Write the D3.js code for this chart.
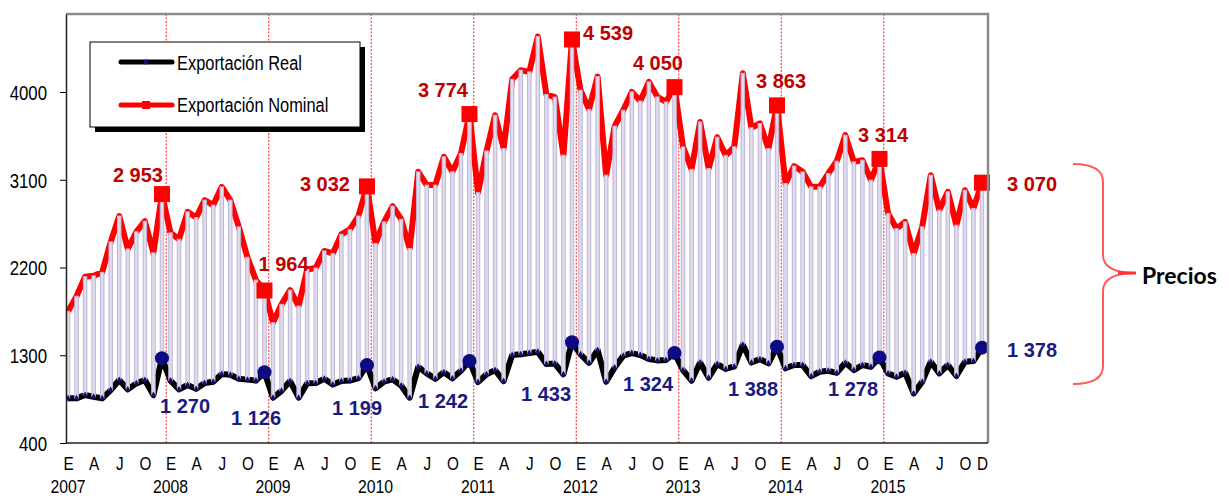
<!DOCTYPE html>
<html>
<head>
<meta charset="utf-8">
<script src="https://cdn.jsdelivr.net/npm/d3@7"></script>
<style>
  body { margin: 0; background: #fff; }
  svg { display: block; }
  .narrow { font-family: "Liberation Sans", Arial, sans-serif; }
  .val { font-family: "Liberation Sans", Arial, sans-serif; font-weight: bold; font-size: 20px; }
</style>
</head>
<body>
<div id="chart"></div>
<script>
////////////////////////////////////////////////////////////////////////
// Data (monthly, Jan 2007 - Dec 2015)

let years = [2007, 2008, 2009, 2010, 2011, 2012, 2013, 2014, 2015];
let monthLetters = ["E", "F", "M", "A", "M", "J", "J", "A", "S", "O", "N", "D"];

// Exportación Nominal
let nominal = [
  1750, 1905, 2105, 2115, 2150, 2463, 2728, 2390, 2566, 2675, 2350, 2953,
  2555, 2490, 2771, 2712, 2891, 2840, 3027, 2891, 2617, 2305, 2071, 1964,
  1635, 1822, 1968, 1805, 2180, 2195, 2370, 2344, 2540, 2590, 2728, 3032,
  2447, 2668, 2830, 2695, 2395, 3181, 3045, 3045, 3335, 3181, 3369, 3774,
  2968, 3395, 3762, 3420, 4130, 4223, 4206, 4568, 3975, 3947, 3352, 4539,
  4018, 3822, 4158, 3147, 3650, 3813, 4001, 3907, 4104, 3950, 3898, 4050,
  3437, 3207, 3693, 3215, 3536, 3350, 3438, 4192, 3634, 3677, 3420, 3863,
  3062, 3240, 3181, 3027, 3027, 3164, 3290, 3557, 3283, 3301, 3096, 3314,
  2754, 2600, 2668, 2344, 2617, 3147, 2788, 2976, 2634, 2993, 2806, 3070
];

// Exportación Real
let real = [
  858, 858, 892, 875, 858, 943, 1046, 950, 1012, 1046, 892, 1270,
  1040, 950, 995, 955, 1015, 1029, 1107, 1100, 1058, 1050, 1040, 1126,
  865, 935, 1035, 865, 1012, 1015, 1058, 1000, 1035, 1040, 1065, 1199,
  961, 1029, 1053, 990, 865, 1182, 1114, 1058, 1126, 1063, 1140, 1242,
  1025, 1105, 1148, 1035, 1302, 1310, 1322, 1336, 1210, 1215, 1105, 1433,
  1310, 1223, 1353, 1029, 1175, 1295, 1322, 1302, 1262, 1247, 1251, 1324,
  1148, 1040, 1225, 1070, 1210, 1160, 1185, 1408, 1225, 1260, 1217, 1388,
  1166, 1200, 1200, 1085, 1131, 1140, 1120, 1223, 1148, 1200, 1182, 1278,
  1114, 1080, 1121, 909, 1029, 1233, 1114, 1200, 1087, 1233, 1240, 1378
];

// December highlights (labelled values)
let decNominal = [2953, 1964, 3032, 3774, 4539, 4050, 3863, 3314, 3070];
let decReal = [1270, 1126, 1199, 1242, 1433, 1324, 1388, 1278, 1378];

let yTicks = [400, 1300, 2200, 3100, 4000];
let seriesNames = ["Exportación Real", "Exportación Nominal"];
let braceLabel = "Precios";

////////////////////////////////////////////////////////////////////////
// Layout

let width = 1229, height = 496;
let plot = { left: 66, right: 988, top: 14, bottom: 443 };

// label offsets from each December marker [dx, dy, anchor]
let nomOffsets = [[1, -12, "end"], [-6, -19.5, "start"], [-17, 4.6, "end"], [-1.5, -17, "end"],
                  [11, 0.6, "start"], [8.5, -17, "end"], [-21, -17, "start"], [-21.5, -17, "start"], [25, 8.4, "start"]];
let realOffsets = [[-2, 55], [-33.5, 53], [-35, 50], [-51.5, 47], [-51, 59],
                   [-51.5, 38], [-49, 49], [-51.5, 38.6], [25, 9.4]];

let fmt = d3.formatLocale({ decimal: ",", thousands: " ", grouping: [3], currency: ["", ""] }).format(",d");

// squeeze a text selection horizontally (the original uses a narrow face)
function narrow(sel, k) {
  sel.each(function() {
    let w = this.getComputedTextLength();
    d3.select(this).attr("textLength", w * k).attr("lengthAdjust", "spacingAndGlyphs");
  });
}

let months = [];
years.forEach(yr => monthLetters.forEach((m, k) => months.push({ year: yr, m: k, key: yr + "-" + k })));

let rows = months.map((d, i) => ({ key: d.key, year: d.year, m: d.m, nom: nominal[i], real: real[i] }));
let decRows = rows.filter(d => d.m === 11);

let svg = d3.select("#chart").append("svg")
  .attr("width", width)
  .attr("height", height);

let x = d3.scalePoint()
  .domain(rows.map(d => d.key))
  .range([68, 982]);

let y = d3.scaleLinear()
  .domain([400, 4800])
  .range([plot.bottom, plot.top]);

// Year separators (dotted red lines between Dec and Jan)
svg.append("g")
  .selectAll("line")
  .data(decRows.slice(0, -1))
  .join("line")
  .attr("x1", d => x(d.key) + x.step() / 2)
  .attr("x2", d => x(d.key) + x.step() / 2)
  .attr("y1", plot.top)
  .attr("y2", plot.bottom)
  .attr("stroke", "#ff2020")
  .attr("stroke-width", 1)
  .attr("stroke-dasharray", "2,1.5");

// Lines
let lineNom = d3.line().x(d => x(d.key)).y(d => y(d.nom));
let lineReal = d3.line().x(d => x(d.key)).y(d => y(d.real));

svg.append("path")
  .datum(rows)
  .attr("d", lineNom)
  .attr("fill", "none")
  .attr("stroke", "#ff0000")
  .attr("stroke-width", 6)
  .attr("stroke-linejoin", "round");

svg.append("path")
  .datum(rows)
  .attr("d", lineReal)
  .attr("fill", "none")
  .attr("stroke", "#000000")
  .attr("stroke-width", 6)
  .attr("stroke-linejoin", "round");

// High-low bars between real and nominal
svg.append("g")
  .selectAll("rect")
  .data(rows)
  .join("rect")
  .attr("x", d => x(d.key) - 1.75)
  .attr("width", 3.5)
  .attr("y", d => y(d.nom))
  .attr("height", d => y(d.real) - y(d.nom))
  .attr("fill", "#e0dcec")
  .attr("stroke", "#bdb5d8")
  .attr("stroke-width", 1);

// small markers on real line
svg.append("g")
  .selectAll("path")
  .data(rows)
  .join("path")
  .attr("d", d3.symbol(d3.symbolDiamond, 14))
  .attr("transform", d => `translate(${x(d.key)},${y(d.real)})`)
  .attr("fill", "#10107a");

// December markers
svg.append("g")
  .selectAll("rect")
  .data(decRows)
  .join("rect")
  .attr("x", d => x(d.key) - 8)
  .attr("y", d => y(d.nom) - 8)
  .attr("width", 16)
  .attr("height", 16)
  .attr("fill", "#ff0000");

svg.append("g")
  .selectAll("circle")
  .data(decRows)
  .join("circle")
  .attr("cx", d => x(d.key))
  .attr("cy", d => y(d.real))
  .attr("r", 7)
  .attr("fill", "#0c0c80");

// Value labels
svg.append("g")
  .selectAll("text")
  .data(decNominal)
  .join("text")
  .attr("class", "val")
  .attr("x", (d, i) => x(decRows[i].key) + nomOffsets[i][0])
  .attr("y", (d, i) => y(d) + nomOffsets[i][1])
  .attr("text-anchor", (d, i) => nomOffsets[i][2])
  .attr("fill", "#c00000")
  .text(d => fmt(d));

svg.append("g")
  .selectAll("text")
  .data(decReal)
  .join("text")
  .attr("class", "val")
  .attr("x", (d, i) => x(decRows[i].key) + realOffsets[i][0])
  .attr("y", (d, i) => y(d) + realOffsets[i][1])
  .attr("fill", "#1a1a80")
  .text(d => fmt(d));

// Frame: top and right in gray
svg.append("path")
  .attr("d", `M${plot.left},${plot.top}H${plot.right}V${plot.bottom}`)
  .attr("fill", "none")
  .attr("stroke", "#8a8a8a")
  .attr("stroke-width", 2.5);

// Y axis
let yAxis = svg.append("g")
  .attr("class", "narrow")
  .attr("transform", `translate(${plot.left},0)`)
  .call(d3.axisLeft(y).tickValues(yTicks).tickFormat(d3.format("d"))
    .tickSize(6).tickSizeOuter(0).tickPadding(13));
yAxis.select(".domain").attr("stroke", "#222").attr("stroke-width", 1.5);
yAxis.selectAll("text").attr("font-size", 21).attr("fill", "#000").attr("dy", "0.35em").call(narrow, 0.8);

// X axis (bottom line + letters)
let xTickKeys = rows.filter(d => d.m % 3 === 0).map(d => d.key).concat([rows[rows.length - 1].key]);
let xAxis = svg.append("g")
  .attr("class", "narrow")
  .attr("transform", `translate(0,${plot.bottom})`)
  .call(d3.axisBottom(x).tickValues(xTickKeys).tickSize(0).tickSizeOuter(0).tickPadding(14)
    .tickFormat(k => monthLetters[+k.split("-")[1]]));
xAxis.select(".domain")
  .attr("d", `M${plot.left},0H${plot.right}`)
  .attr("stroke", "#222").attr("stroke-width", 1.5);
xAxis.selectAll("text").attr("font-size", 18).attr("fill", "#000").call(narrow, 0.85);

svg.append("g")
  .attr("class", "narrow")
  .selectAll("text")
  .data(rows.filter(d => d.m === 0))
  .join("text")
  .attr("x", d => x(d.key))
  .attr("y", 493)
  .attr("text-anchor", "middle")
  .attr("font-size", 19)
  .text(d => d.year)
  .call(narrow, 0.83);

// Legend
let legend = svg.append("g").attr("class", "narrow");
legend.append("rect").attr("x", 95).attr("y", 47).attr("width", 270).attr("height", 85).attr("fill", "#000");
legend.append("rect").attr("x", 90).attr("y", 42).attr("width", 270).attr("height", 85)
  .attr("fill", "#fff").attr("stroke", "#000").attr("stroke-width", 1);
legend.append("line").attr("x1", 121).attr("x2", 172).attr("y1", 62).attr("y2", 62)
  .attr("stroke", "#000").attr("stroke-width", 5).attr("stroke-linecap", "round");
legend.append("circle").attr("cx", 146).attr("cy", 62).attr("r", 2.5).attr("fill", "#10107a");
legend.append("line").attr("x1", 121).attr("x2", 172).attr("y1", 105).attr("y2", 105)
  .attr("stroke", "#ff0000").attr("stroke-width", 5).attr("stroke-linecap", "round");
legend.append("rect").attr("x", 142).attr("y", 101).attr("width", 8).attr("height", 8).attr("fill", "#ff0000");
legend.selectAll("text.lg")
  .data(seriesNames)
  .join("text")
  .attr("class", "lg")
  .attr("x", 177)
  .attr("y", (d, i) => i === 0 ? 70 : 112)
  .attr("font-size", 20)
  .text(d => d)
  .call(narrow, 0.82);

// Brace "Precios"
svg.append("path")
  .attr("d", "M1073,164 Q1103,164 1103,182 L1103,255 Q1103,272 1133,273 Q1103,274 1103,291 L1103,366 Q1103,384 1073,384")
  .attr("fill", "none")
  .attr("stroke", "#ff5a5a")
  .attr("stroke-width", 2);
svg.append("line").attr("x1", 1118).attr("x2", 1136).attr("y1", 273).attr("y2", 273)
  .attr("stroke", "#ff3030").attr("stroke-width", 3);
svg.append("text")
  .attr("x", 1142)
  .attr("y", 284)
  .attr("font-family", "Lato, 'Open Sans', sans-serif")
  .attr("font-weight", "bold")
  .attr("font-size", 23)
  .text(braceLabel);
</script>
</body>
</html>
